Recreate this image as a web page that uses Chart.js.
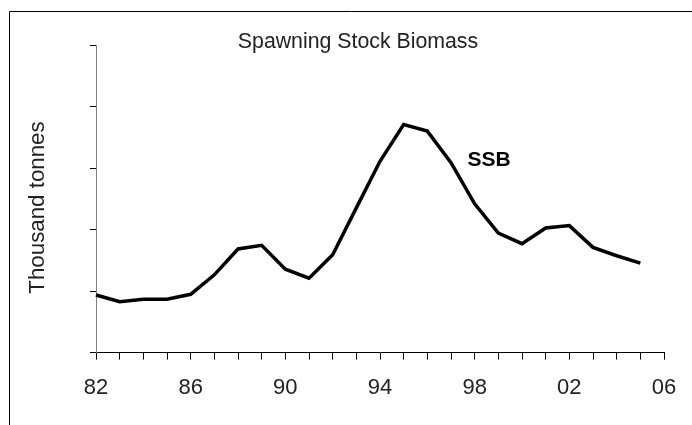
<!DOCTYPE html>
<html>
<head>
<meta charset="utf-8">
<script src="https://cdn.jsdelivr.net/npm/chart.js@4/dist/chart.umd.min.js"></script>
<style>
  html, body { margin: 0; padding: 0; background: #fff; }
  #wrap { width: 692px; height: 425px; position: relative; }
</style>
</head>
<body>
<div id="wrap"><canvas id="c" width="692" height="425"></canvas></div>
<script>
// Years (two-digit labels), 1982..2006
const years = ['82','83','84','85','86','87','88','89','90','91','92','93','94','95','96','97','98','99','00','01','02','03','04','05','06'];
// Spawning stock biomass (thousand tonnes, relative axis units), 1982..2005
const ssb = [46.8, 41.4, 43.3, 43.3, 47.4, 63.2, 84.2, 87.2, 67.8, 60.5, 79.5, 117.6, 155.5, 185.3, 180.0, 154.4, 120.9, 97.2, 88.5, 101.3, 103.2, 85.5, 78.7, 72.7, null];
const shownTickLabels = ['82','86','90','94','98','02','06'];
const chartTitle = 'Spawning Stock Biomass';
const yAxisTitle = 'Thousand tonnes';
const seriesLabel = 'SSB';

const decor = {
  id: 'decor',
  beforeDraw(chart) {
    const ctx = chart.ctx;
    ctx.save();
    ctx.fillStyle = '#fff';
    ctx.fillRect(0, 0, chart.width, chart.height);
    ctx.restore();
  },
  afterDraw(chart) {
    const ctx = chart.ctx;
    ctx.save();
    // outer frame (runs off right/bottom edges)
    ctx.strokeStyle = '#000';
    ctx.lineWidth = 1;
    ctx.beginPath();
    ctx.moveTo(9.5, chart.height + 5);
    ctx.lineTo(9.5, 11.5);
    ctx.lineTo(chart.width + 5, 11.5);
    ctx.stroke();
    // title
    ctx.fillStyle = '#222';
    ctx.font = '21.3px "Liberation Sans", Arial, sans-serif';
    ctx.textAlign = 'center';
    ctx.textBaseline = 'alphabetic';
    ctx.fillText(chartTitle, 358, 47.5);
    // y axis title
    ctx.save();
    ctx.translate(44, 207.5);
    ctx.rotate(-Math.PI / 2);
    ctx.textAlign = 'center';
    ctx.textBaseline = 'alphabetic';
    ctx.font = '22.3px "Liberation Sans", Arial, sans-serif';
    ctx.fillText(yAxisTitle, 0, 0);
    ctx.restore();
    // series label
    ctx.fillStyle = '#000';
    ctx.font = 'bold 21px "Liberation Sans", Arial, sans-serif';
    ctx.textAlign = 'left';
    ctx.fillText(seriesLabel, 467.5, 165.5);
    ctx.restore();
  }
};

new Chart(document.getElementById('c'), {
  type: 'line',
  data: {
    labels: years,
    datasets: [{
      label: seriesLabel,
      data: ssb,
      borderColor: '#000',
      borderWidth: 3.5,
      borderJoinStyle: 'miter',
      pointRadius: 0,
      tension: 0,
      fill: false
    }]
  },
  options: {
    responsive: false,
    animation: false,
    devicePixelRatio: 1,
    layout: { padding: { left: 90, right: 28, top: 45, bottom: 9 } },
    plugins: { legend: { display: false }, title: { display: false }, tooltip: { enabled: false } },
    scales: {
      x: {
        type: 'category',
        offset: false,
        grid: { display: true, drawOnChartArea: false, drawTicks: true, tickLength: 7, color: '#000', lineWidth: 1 },
        border: { display: true, color: '#000', width: 1 },
        ticks: {
          autoSkip: false,
          maxRotation: 0,
          padding: 15,
          color: '#222',
          font: { family: '"Liberation Sans", Arial, sans-serif', size: 22 },
          callback: function(v, i) { const l = years[i]; return shownTickLabels.includes(l) ? l : ''; }
        }
      },
      y: {
        min: 0, max: 250,
        grid: { display: true, drawOnChartArea: false, drawTicks: true, tickLength: 6, color: '#000', lineWidth: 1 },
        border: { display: true, color: '#808080', width: 1 },
        ticks: { display: false, stepSize: 50 }
      }
    }
  },
  plugins: [decor]
});
</script>
</body>
</html>
